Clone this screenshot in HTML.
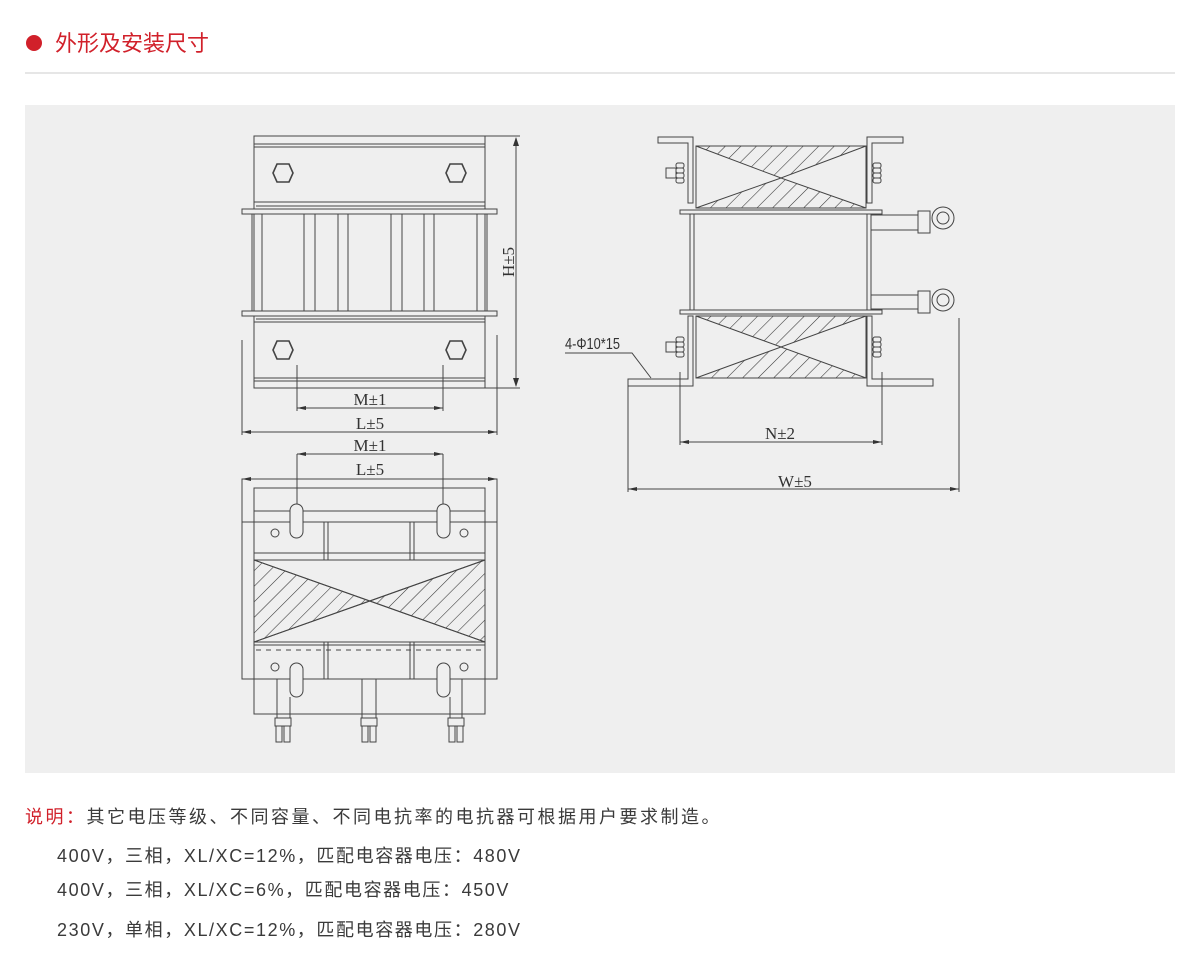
<!DOCTYPE html>
<html><head><meta charset="utf-8"><style>
body{margin:0;background:#fff;width:1200px;height:964px;overflow:hidden;font-family:"Liberation Sans","Noto Sans CJK SC",sans-serif}
svg{position:absolute;left:0;top:0}
.t{position:absolute;white-space:nowrap;color:#3a3a3a;font-size:18px;letter-spacing:1.6px;line-height:24px}
</style></head><body>
<svg width="1200" height="964" viewBox="0 0 1200 964">
<defs>
<pattern id="h" patternUnits="userSpaceOnUse" width="11" height="11" patternTransform="rotate(45)">
<line x1="0" y1="0" x2="0" y2="11" stroke="#333" stroke-width="1.1"/>
</pattern>
</defs>
<circle cx="34" cy="43" r="8" fill="#d1202a"/>
<text x="55" y="51" font-size="22" fill="#d1202a" font-family="Noto Sans CJK SC,sans-serif">外形及安装尺寸</text>
<line x1="25" y1="73" x2="1175" y2="73" stroke="#ddd" stroke-width="1.5"/>
<rect x="25" y="105" width="1150" height="668" fill="#efefef"/>
<g fill="none" stroke="#444" stroke-width="1">
<rect x="254" y="136" width="231" height="252"/>
<line x1="254" y1="144" x2="485" y2="144"/><line x1="254" y1="147" x2="485" y2="147"/>
<line x1="254" y1="202" x2="485" y2="202"/>
<line x1="254" y1="378" x2="485" y2="378"/><line x1="254" y1="381" x2="485" y2="381"/>
<line x1="254" y1="322" x2="485" y2="322"/>
<g stroke-width="1.6">
<polygon points="273,173 277,164 289,164 293,173 289,182 277,182"/>
<polygon points="446,173 450,164 462,164 466,173 462,182 450,182"/>
<polygon points="273,350 277,341 289,341 293,350 289,359 277,359"/>
<polygon points="446,350 450,341 462,341 466,350 462,359 450,359"/>
</g>
<rect x="242" y="209" width="255" height="5" fill="#efefef"/>
<rect x="242" y="311" width="255" height="5" fill="#efefef"/>
<line x1="256" y1="206" x2="485" y2="206"/><line x1="256" y1="319" x2="485" y2="319"/>
<g>
<line x1="252" y1="214" x2="252" y2="311"/><line x1="262" y1="214" x2="262" y2="311"/>
<line x1="304" y1="214" x2="304" y2="311"/><line x1="315" y1="214" x2="315" y2="311"/>
<line x1="338" y1="214" x2="338" y2="311"/><line x1="348" y1="214" x2="348" y2="311"/>
<line x1="391" y1="214" x2="391" y2="311"/><line x1="402" y1="214" x2="402" y2="311"/>
<line x1="424" y1="214" x2="424" y2="311"/><line x1="434" y1="214" x2="434" y2="311"/>
<line x1="477" y1="214" x2="477" y2="311"/><line x1="487" y1="214" x2="487" y2="311"/>
</g>
<line x1="485" y1="136" x2="520" y2="136"/><line x1="485" y1="388" x2="520" y2="388"/>
<line x1="516" y1="138" x2="516" y2="386"/>
<line x1="297" y1="365" x2="297" y2="411"/><line x1="443" y1="365" x2="443" y2="411"/>
<line x1="297" y1="408" x2="443" y2="408"/>
<line x1="242" y1="340" x2="242" y2="435"/><line x1="497" y1="335" x2="497" y2="435"/>
<line x1="242" y1="432" x2="497" y2="432"/>
<line x1="297" y1="454" x2="443" y2="454"/>
<line x1="297" y1="454" x2="297" y2="505"/><line x1="443" y1="454" x2="443" y2="505"/>
<line x1="242" y1="479" x2="497" y2="479"/>
<rect x="242" y="479" width="255" height="200"/>
<rect x="254" y="488" width="231" height="226"/>
<line x1="254" y1="511" x2="485" y2="511"/><line x1="242" y1="522" x2="497" y2="522"/>
<rect x="290" y="504" width="13" height="34" rx="6.5" fill="#efefef"/>
<rect x="437" y="504" width="13" height="34" rx="6.5" fill="#efefef"/>
<circle cx="275" cy="533" r="4"/><circle cx="464" cy="533" r="4"/>
<line x1="324" y1="522" x2="324" y2="560"/><line x1="328" y1="522" x2="328" y2="560"/>
<line x1="410" y1="522" x2="410" y2="560"/><line x1="414" y1="522" x2="414" y2="560"/>
<line x1="254" y1="553" x2="485" y2="553"/>
<rect x="254" y="560" width="231" height="82" fill="#efefef"/>
<polygon points="254,560 370,601 254,642" fill="url(#h)"/>
<polygon points="485,560 370,601 485,642" fill="url(#h)"/>
<line x1="254" y1="560" x2="485" y2="642"/><line x1="254" y1="642" x2="485" y2="560"/>
<line x1="254" y1="645" x2="485" y2="645"/>
<line x1="256" y1="650" x2="485" y2="650" stroke-dasharray="5,5"/>
<line x1="324" y1="642" x2="324" y2="679"/><line x1="328" y1="642" x2="328" y2="679"/>
<line x1="410" y1="642" x2="410" y2="679"/><line x1="414" y1="642" x2="414" y2="679"/>
<circle cx="275" cy="667" r="4"/><circle cx="464" cy="667" r="4"/>
<rect x="290" y="663" width="13" height="34" rx="6.5" fill="#efefef"/>
<rect x="437" y="663" width="13" height="34" rx="6.5" fill="#efefef"/>
<g>
<line x1="277" y1="679" x2="277" y2="718"/><line x1="290" y1="697" x2="290" y2="718"/>
<rect x="275" y="718" width="16" height="8"/><rect x="276" y="726" width="6" height="16"/><rect x="284" y="726" width="6" height="16"/>
<line x1="362" y1="679" x2="362" y2="718"/><line x1="376" y1="679" x2="376" y2="718"/>
<rect x="361" y="718" width="16" height="8"/><rect x="362" y="726" width="6" height="16"/><rect x="370" y="726" width="6" height="16"/>
<line x1="450" y1="697" x2="450" y2="718"/><line x1="462" y1="679" x2="462" y2="718"/>
<rect x="448" y="718" width="16" height="8"/><rect x="449" y="726" width="6" height="16"/><rect x="457" y="726" width="6" height="16"/>
</g>
<path d="M658,137 H693 V203 H688 V143 H658 Z"/>
<path d="M903,137 H867 V203 H872 V143 H903 Z"/>
<path d="M628,386 H693 V316 H688 V379 H628 Z"/>
<path d="M933,386 H867 V316 H872 V379 H933 Z"/>
<rect x="696" y="146" width="170" height="62"/>
<polygon points="696,146 866,146 781,178" fill="url(#h)"/>
<polygon points="696,208 866,208 781,178" fill="url(#h)"/>
<rect x="696" y="316" width="170" height="62"/>
<polygon points="696,316 866,316 781,347" fill="url(#h)"/>
<polygon points="696,378 866,378 781,347" fill="url(#h)"/>
<rect x="680" y="210" width="202" height="4" fill="#efefef"/>
<rect x="680" y="310" width="202" height="4" fill="#efefef"/>
<line x1="690" y1="214" x2="690" y2="310"/><line x1="694" y1="214" x2="694" y2="310"/>
<line x1="867" y1="214" x2="867" y2="310"/><line x1="871" y1="214" x2="871" y2="310"/>
<g>
<rect x="666" y="168" width="10" height="10"/><rect x="676" y="163" width="8" height="5" rx="2"/><rect x="676" y="168" width="8" height="5" rx="2"/><rect x="676" y="173" width="8" height="5" rx="2"/><rect x="676" y="178" width="8" height="5" rx="2"/>
<rect x="666" y="342" width="10" height="10"/><rect x="676" y="337" width="8" height="5" rx="2"/><rect x="676" y="342" width="8" height="5" rx="2"/><rect x="676" y="347" width="8" height="5" rx="2"/><rect x="676" y="352" width="8" height="5" rx="2"/>
<rect x="873" y="163" width="8" height="5" rx="2"/><rect x="873" y="168" width="8" height="5" rx="2"/><rect x="873" y="173" width="8" height="5" rx="2"/><rect x="873" y="178" width="8" height="5" rx="2"/>
<rect x="873" y="337" width="8" height="5" rx="2"/><rect x="873" y="342" width="8" height="5" rx="2"/><rect x="873" y="347" width="8" height="5" rx="2"/><rect x="873" y="352" width="8" height="5" rx="2"/>
</g>
<line x1="871" y1="215" x2="918" y2="215"/><line x1="871" y1="230" x2="918" y2="230"/>
<rect x="918" y="211" width="12" height="22"/><circle cx="943" cy="218" r="11"/><circle cx="943" cy="218" r="6"/>
<line x1="871" y1="295" x2="918" y2="295"/><line x1="871" y1="309" x2="918" y2="309"/>
<rect x="918" y="291" width="12" height="22"/><circle cx="943" cy="300" r="11"/><circle cx="943" cy="300" r="6"/>
<line x1="680" y1="372" x2="680" y2="445"/><line x1="882" y1="372" x2="882" y2="445"/>
<line x1="680" y1="442" x2="882" y2="442"/>
<line x1="628" y1="386" x2="628" y2="492"/><line x1="959" y1="318" x2="959" y2="492"/>
<line x1="628" y1="489" x2="959" y2="489"/>
<polyline points="565,353 632,353 651,378"/>
</g>
<g fill="#333">
<polygon points="516,137 513,146 519,146"/><polygon points="516,387 513,378 519,378"/>
<polygon points="297,408 306,406 306,410"/><polygon points="443,408 434,406 434,410"/>
<polygon points="242,432 251,430 251,434"/><polygon points="497,432 488,430 488,434"/>
<polygon points="297,454 306,452 306,456"/><polygon points="443,454 434,452 434,456"/>
<polygon points="242,479 251,477 251,481"/><polygon points="497,479 488,477 488,481"/>
<polygon points="680,442 689,440 689,444"/><polygon points="882,442 873,440 873,444"/>
<polygon points="628,489 637,487 637,491"/><polygon points="959,489 950,487 950,491"/>
</g>
<g font-family="Liberation Serif,serif" font-size="17" fill="#333" text-anchor="middle">
<text x="370" y="405">M±1</text><text x="370" y="429">L±5</text>
<text x="370" y="451">M±1</text><text x="370" y="475">L±5</text>
<text x="780" y="439">N±2</text><text x="795" y="487">W±5</text>
<text transform="translate(514,262) rotate(-90)">H±5</text>
</g>
<text x="565" y="349" font-family="Liberation Sans,sans-serif" font-size="16" fill="#333" transform="translate(565,349) scale(0.8,1) translate(-565,-349)">4-Φ10*15</text>
</svg>
<div class="t" style="left:25px;top:805px;letter-spacing:2.5px"><span style="color:#d1202a">说明：</span>其它电压等级、不同容量、不同电抗率的电抗器可根据用户要求制造。</div>
<div class="t" style="left:57px;top:844px">400V，三相，XL/XC=12%，匹配电容器电压：480V</div>
<div class="t" style="left:57px;top:878px">400V，三相，XL/XC=6%，匹配电容器电压：450V</div>
<div class="t" style="left:57px;top:918px">230V，单相，XL/XC=12%，匹配电容器电压：280V</div>
</body></html>
